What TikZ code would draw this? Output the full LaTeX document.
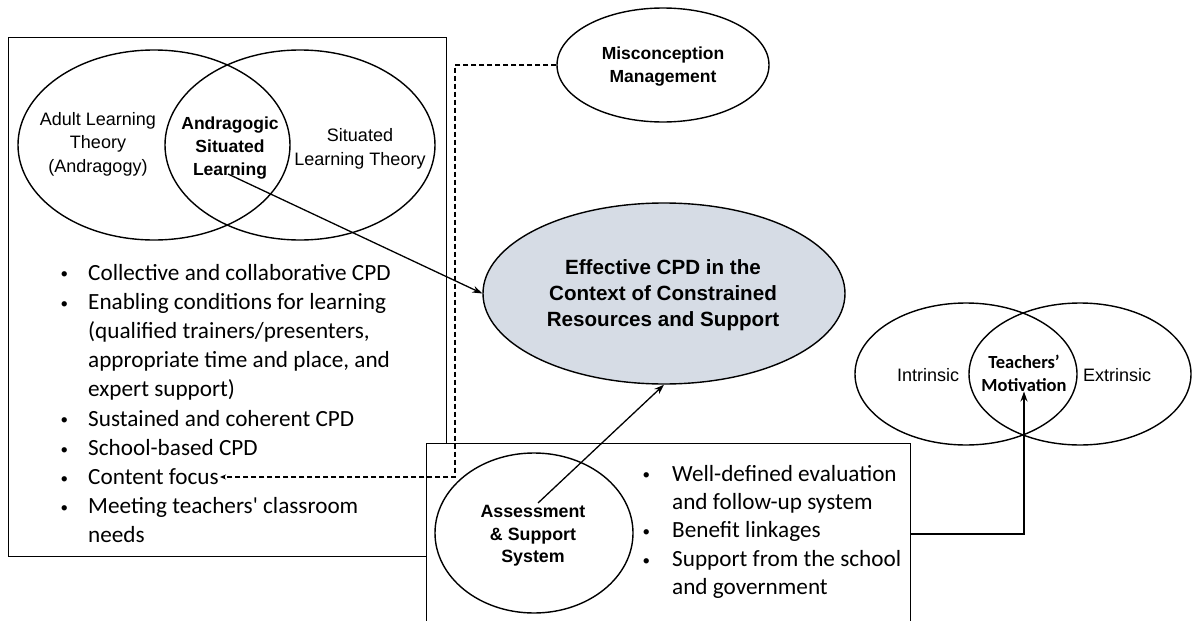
\documentclass[tikz,border=0pt]{standalone}
\usepackage{fontspec}
\setmainfont{Liberation Sans}
\newfontfamily\bodyfont{Carlito}
\usetikzlibrary{shapes.geometric,arrows.meta}
\definecolor{cpdfill}{RGB}{214,220,229}
% small list bullet in a fixed-width box
\newcommand\dotmark[1]{\makebox[#1][l]{\hspace{1.5pt}\raisebox{1.2pt}{\fontsize{15}{15}\selectfont\textbullet}}}
\begin{document}
\begin{tikzpicture}[x=1pt,y=-1pt,
  outline/.style={draw=black,line width=1.4pt},
  oval/.style={outline,ellipse,inner sep=0pt},
  lbl/.style={align=center,inner sep=0pt,font=\fontsize{18}{23.5}\selectfont},
  blbl/.style={align=center,inner sep=0pt,font=\fontsize{17.5}{23}\selectfont\bfseries},
  mlbl/.style={align=center,inner sep=0pt,font=\bodyfont\bfseries\fontsize{18.5}{23}\selectfont},
  bullets/.style={inner sep=0pt,anchor=base west},
  link/.style={line width=1.3pt,-{Stealth[length=10pt,width=7pt]}},
  dlink/.style={line width=1.2pt,dash pattern=on 5pt off 3pt,-{Stealth[length=6pt,width=5pt]}}]

\useasboundingbox (0,0) rectangle (1192,621);
\begin{scope}
\clip (0,0) rectangle (1192,621);

% left frame: learning theories and CPD features
\node[outline,rectangle,minimum width=438pt,minimum height=519pt,anchor=north west] (theorybox) at (8,37) {};

% Venn diagram of the two learning theories
\node[oval,minimum width=272pt,minimum height=190pt] (adult) at (154,145) {};
\node[oval,minimum width=270pt,minimum height=190pt] (situated) at (300,145) {};
\node[lbl] (adulttxt) at (98,144) {Adult Learning\\Theory\\(Andragogy)};
\node[blbl] (asl) at (230,148) {Andragogic\\Situated\\Learning};
\node[lbl] (sittxt) at (360,149) {Situated\\Learning Theory};

% features of the CPD
\node[bullets] (cpdlist) at (59,280) {\bodyfont\fontsize{23.2}{29.2}\selectfont
  \begin{tabular}[t]{@{}l@{}l@{}}
  \dotmark{29pt} & Collective and collaborative CPD\\
  \dotmark{29pt} & Enabling conditions for learning\\
   & (qualified trainers/presenters,\\
   & appropriate time and place, and\\
   & expert support)\\
  \dotmark{29pt} & Sustained and coherent CPD\\
  \dotmark{29pt} & School-based CPD\\
  \dotmark{29pt} & Content focus\\
  \dotmark{29pt} & Meeting teachers' classroom\\
   & needs
  \end{tabular}};
\coordinate (focus) at (220,477);

% misconception management
\node[oval,minimum width=212pt,minimum height=114pt] (misc) at (663,65) {};
\node[blbl] (misctxt) at (663,67) {Misconception\\Management};

% central outcome
\node[oval,fill=cpdfill,minimum width=362pt,minimum height=181pt] (cpd) at (664,293.5) {};
\node[blbl,font=\fontsize{20.6}{26}\selectfont\bfseries] (cpdtxt) at (663,295) {Effective CPD in the\\Context of Constrained\\Resources and Support};

% assessment and support frame
\node[outline,rectangle,fill=white,minimum width=484pt,minimum height=220pt,anchor=north west] (supbox) at (426,443) {};
\node[oval,minimum width=198pt,minimum height=160pt] (assess) at (534,533) {};
\node[blbl,font=\fontsize{17.8}{22.5}\selectfont\bfseries] (asstxt) at (533,536) {Assessment\\\& Support\\System};
\node[bullets] (suplist) at (641,481) {\bodyfont\fontsize{23.2}{28.4}\selectfont
  \begin{tabular}[t]{@{}l@{}l@{}}
  \dotmark{31pt} & Well-defined evaluation\\
   & and follow-up system\\
  \dotmark{31pt} & Benefit linkages\\
  \dotmark{31pt} & Support from the school\\
   & and government
  \end{tabular}};

% teachers' motivation
\node[oval,minimum width=222pt,minimum height=142pt] (intr) at (966,374) {};
\node[oval,minimum width=222pt,minimum height=142pt] (extr) at (1080,374) {};
\node[lbl] (intrtxt) at (928,375) {Intrinsic};
\node[lbl] (extrtxt) at (1117,375) {Extrinsic};
\node[mlbl] (motiv) at (1024,373) {Teachers’\\Motivation};

% connectors
\coordinate (aslfoot) at (228,174);
\coordinate (assfoot) at (538,503);
\draw[link] (aslfoot) -- (cpd.west);
\draw[link] (assfoot) -- (cpd.south);
\draw[dlink] (misc.west) -| (455,477) -- (focus);
\draw[link] (supbox.east |- 0,534) -| (motiv.south);
\end{scope}
\end{tikzpicture}
\end{document}
